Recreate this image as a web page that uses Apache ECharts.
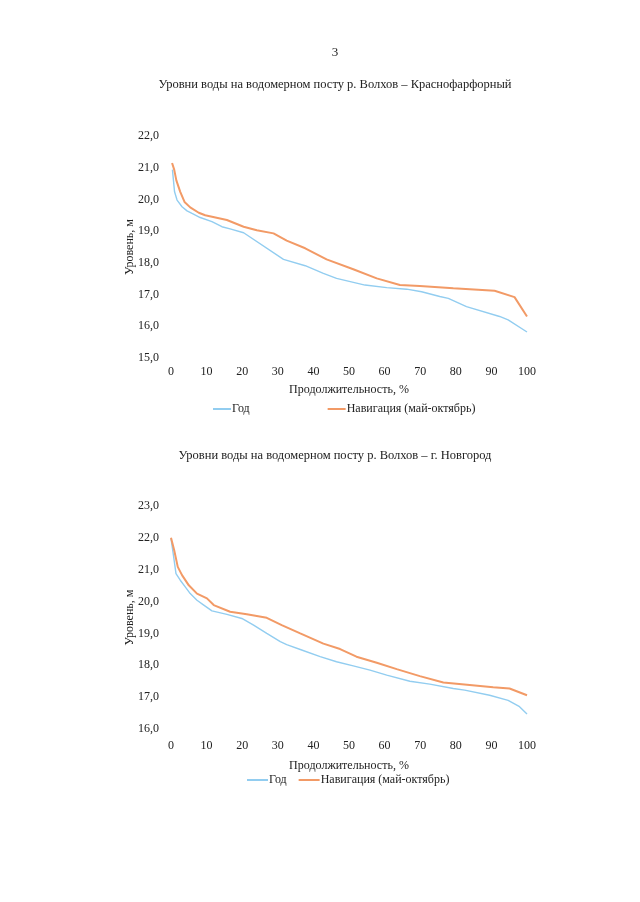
<!DOCTYPE html>
<html><head><meta charset="utf-8">
<script src="https://cdn.jsdelivr.net/npm/echarts@6/dist/echarts.min.js"></script>
<style>html,body{margin:0;padding:0;background:#fff}#c{width:640px;height:902px}</style>
</head><body><div id="c"></div>
<script>
// Chart 1: Krasnofarforny
const kYearX = [0.4, 1, 1.7, 3.1, 4.5, 5.9, 8.2, 11.5, 14.3, 16.6, 20.4, 31.6, 37.7, 42.8, 46.5, 54.5, 60.6, 66.2, 70.4, 75.5, 77.9, 83, 92.3, 94.7, 100];
const kYearY = [20.94, 20.24, 19.98, 19.77, 19.64, 19.56, 19.43, 19.3, 19.14, 19.07, 18.95, 18.11, 17.91, 17.67, 17.51, 17.3, 17.22, 17.17, 17.09, 16.94, 16.88, 16.62, 16.31, 16.2, 15.82];
const kNavX = [0.3, 0.9, 1.5, 2.6, 3.8, 5.4, 7.8, 9.6, 15.7, 20.4, 24.1, 28.8, 32.5, 37.7, 43.7, 51.2, 57.8, 64.3, 69.9, 79.3, 90.9, 96.5, 100];
const kNavY = [21.15, 20.94, 20.6, 20.24, 19.92, 19.75, 19.58, 19.5, 19.35, 19.14, 19.03, 18.93, 18.7, 18.46, 18.11, 17.8, 17.51, 17.3, 17.27, 17.2, 17.12, 16.92, 16.31];
// Chart 2: Novgorod
const nYearX = [0, 0.75, 1.4, 2.6, 4, 5.4, 7.3, 9.2, 11.5, 15.7, 19.9, 23.2, 26.9, 30.7, 32.5, 36.7, 41.9, 46.5, 51.2, 55.9, 60.6, 67.1, 72.7, 79.3, 82.5, 89.5, 94.7, 97.9, 100];
const nYearY = [21.98, 21.4, 20.88, 20.67, 20.46, 20.25, 20.04, 19.89, 19.71, 19.6, 19.47, 19.26, 19.0, 18.74, 18.65, 18.48, 18.27, 18.11, 17.98, 17.85, 17.69, 17.5, 17.41, 17.27, 17.22, 17.06, 16.9, 16.7, 16.47];
const nNavX = [0, 0.9, 1.9, 3.1, 5, 7.3, 10.1, 12, 16.6, 21.3, 26.9, 31.1, 36.3, 42.8, 47.5, 52.1, 57.8, 63.4, 69.9, 76.5, 83.9, 90.5, 95.1, 100];
const nNavY = [22.0, 21.61, 21.09, 20.83, 20.51, 20.25, 20.1, 19.89, 19.68, 19.6, 19.49, 19.26, 19.0, 18.68, 18.51, 18.27, 18.08, 17.88, 17.66, 17.46, 17.38, 17.31, 17.27, 17.06];

const seriesNames = ['Год', 'Навигация (май-октябрь)'];
const titles = ['Уровни воды на водомерном посту р. Волхов – Краснофарфорный', 'Уровни воды на водомерном посту р. Волхов – г. Новгород'];
const pageNum = '3';
const xName = 'Продолжительность, %';
const yName = 'Уровень, м';

const pairs = (xs, ys) => xs.map((x, i) => [x, ys[i]]);
const FONT = '"Liberation Serif", "Times New Roman", serif';
const TXT = '#222';
const BLUE = '#92CDF0', ORANGE = '#F29A66';

const chart = echarts.init(document.getElementById('c'), null, {renderer: 'canvas'});
const xAxisBase = (gi, gap, margin) => ({
  type: 'value', gridIndex: gi, min: 0, max: 100, interval: 10,
  name: xName, nameLocation: 'middle', nameGap: gap, nameMoveOverlap: false,
  nameTextStyle: {fontFamily: FONT, fontSize: 12, color: TXT},
  axisLine: {show: false}, axisTick: {show: false}, splitLine: {show: false},
  axisLabel: {fontFamily: FONT, fontSize: 12, color: TXT, margin: margin}
});
const yAxisBase = (gi, min, max) => ({
  type: 'value', gridIndex: gi, min: min, max: max, interval: 1,
  name: yName, nameLocation: 'middle', nameGap: 35, nameRotate: 90, nameMoveOverlap: false,
  nameTextStyle: {fontFamily: FONT, fontSize: 12, color: TXT},
  axisLine: {show: false}, axisTick: {show: false}, splitLine: {show: false},
  axisLabel: {fontFamily: FONT, fontSize: 12, color: TXT, margin: 12,
    formatter: v => v.toFixed(1).replace('.', ',')}
});
const lineS = (name, data, color, w, idx) => ({
  type: 'line', name: name, data: data, xAxisIndex: idx, yAxisIndex: idx,
  showSymbol: false, symbol: 'none', smooth: false, animation: false,
  lineStyle: {color: color, width: w}, itemStyle: {color: color}
});
chart.setOption({
  backgroundColor: '#fff',
  animation: false,
  graphic: [
    {type: 'text', x: 335, y: 53, style: {text: pageNum, font: '13px ' + FONT, fill: TXT, textAlign: 'center', textVerticalAlign: 'middle'}},
    {type: 'text', x: 335, y: 85, style: {text: titles[0], font: '12.5px ' + FONT, fill: TXT, textAlign: 'center', textVerticalAlign: 'middle'}},
    {type: 'text', x: 335, y: 456, style: {text: titles[1], font: '12.5px ' + FONT, fill: TXT, textAlign: 'center', textVerticalAlign: 'middle'}}
  ],
  grid: [
    {left: 171, top: 136, width: 356, height: 222},
    {left: 171, top: 506, width: 356, height: 223}
  ],
  xAxis: [xAxisBase(0, 26, 8), xAxisBase(1, 31, 11)],
  yAxis: [yAxisBase(0, 15, 22), yAxisBase(1, 16, 23)],
  legend: [
    {left: 213, top: 403, padding: 0, itemWidth: 18, itemHeight: 2, itemGap: 78, icon: 'rect',
     data: seriesNames, textStyle: {fontFamily: FONT, fontSize: 12, color: TXT, padding: [0,0,0,-4]}},
    {left: 247, top: 774, padding: 0, itemWidth: 21, itemHeight: 2, itemGap: 12, icon: 'rect',
     data: seriesNames, textStyle: {fontFamily: FONT, fontSize: 12, color: TXT, padding: [0,0,0,-4]}}
  ],
  series: [
    lineS(seriesNames[0], pairs(kYearX, kYearY), BLUE, 1.4, 0),
    lineS(seriesNames[1], pairs(kNavX, kNavY), ORANGE, 2, 0),
    lineS(seriesNames[0], pairs(nYearX, nYearY), BLUE, 1.4, 1),
    lineS(seriesNames[1], pairs(nNavX, nNavY), ORANGE, 2, 1)
  ]
});
</script></body></html>
